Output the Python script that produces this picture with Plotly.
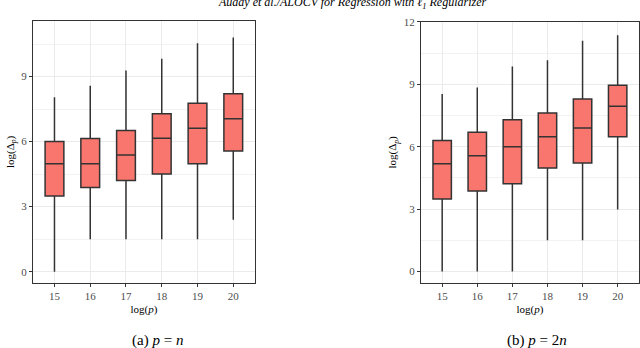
import plotly.graph_objects as go

cats = ["15", "16", "17", "18", "19", "20"]

# panel (a) p = n
a_low = [0.0, 1.49, 1.49, 1.49, 1.49, 2.39]
a_q1 = [3.49, 3.88, 4.2, 4.51, 4.98, 5.57]
a_med = [4.98, 4.98, 5.38, 6.15, 6.62, 7.06]
a_q3 = [6.0, 6.14, 6.51, 7.29, 7.77, 8.21]
a_high = [8.05, 8.58, 9.28, 9.82, 10.54, 10.8]

# panel (b) p = 2n
b_low = [0.0, 0.0, 0.0, 1.5, 1.5, 2.98]
b_q1 = [3.49, 3.87, 4.22, 4.98, 5.22, 6.48]
b_med = [5.18, 5.57, 6.0, 6.48, 6.9, 7.94]
b_q3 = [6.3, 6.69, 7.3, 7.62, 8.29, 8.96]
b_high = [8.53, 8.85, 9.86, 10.16, 11.09, 11.36]

fill = "#F8766D"
serif = "Liberation Serif"

fig = go.Figure()
fig.add_trace(go.Box(x=cats, q1=a_q1, median=a_med, q3=a_q3,
                     lowerfence=a_low, upperfence=a_high, whiskerwidth=0,
                     fillcolor=fill, line=dict(color="#333333", width=1.5),
                     xaxis="x", yaxis="y", showlegend=False, hoverinfo="skip"))
fig.add_trace(go.Box(x=cats, q1=b_q1, median=b_med, q3=b_q3,
                     lowerfence=b_low, upperfence=b_high, whiskerwidth=0,
                     fillcolor=fill, line=dict(color="#333333", width=1.5),
                     xaxis="x2", yaxis="y2", showlegend=False, hoverinfo="skip"))

xcommon = dict(type="category", range=[-0.6, 5.6], showgrid=True, gridcolor="#EBEBEB",
               gridwidth=1, showline=True, linecolor="#333333", linewidth=1.2, mirror=True,
               ticks="outside", ticklen=3, tickcolor="#333333", automargin=False,
               tickfont=dict(family=serif, size=11, color="#4D4D4D"),
               zeroline=False)
ycommon = dict(showgrid=True, gridcolor="#EBEBEB", gridwidth=1, showline=True,
               linecolor="#333333", linewidth=1.2, mirror=True, automargin=False,
               ticks="outside", ticklen=3, tickcolor="#333333",
               tickfont=dict(family=serif, size=11, color="#4D4D4D"),
               tickmode="array", zeroline=False,
               minor=dict(showgrid=True, gridcolor="#F2F2F2", gridwidth=0.6,
                          tickmode="array", tickvals=[1.5, 4.5, 7.5, 10.5]))

fig.update_layout(
    width=640, height=348,
    margin=dict(l=0, r=0, t=0, b=0),
    paper_bgcolor="white", plot_bgcolor="white",
    boxgap=0.25,
    xaxis=dict(domain=[0.0516, 0.398], anchor="y",
               title=dict(text="log(<i>p</i>)", standoff=4,
                          font=dict(family=serif, size=11, color="black")), **xcommon),
    yaxis=dict(domain=[0.187, 0.940], anchor="x", range=[-0.52, 11.57],
               tickvals=[0, 3, 6, 9],
               title=dict(text="log(Δ<sub><i>p</i></sub>)", standoff=4,
                          font=dict(family=serif, size=11, color="black")), **ycommon),
    xaxis2=dict(domain=[0.658, 0.998], anchor="y2",
                title=dict(text="log(<i>p</i>)", standoff=4,
                           font=dict(family=serif, size=11, color="black")), **xcommon),
    yaxis2=dict(domain=[0.187, 0.937], anchor="x2", range=[-0.55, 12.0],
                tickvals=[0, 3, 6, 9, 12],
                title=dict(text="log(Δ<sub><i>p</i></sub>)", standoff=4,
                           font=dict(family=serif, size=11, color="black")), **ycommon),
)

fig.add_annotation(text="<i>Auddy et al./ALOCV for Regression with ℓ<sub>1</sub> Regularizer</i>",
                   x=352 / 640, y=1 - 3 / 348, xref="paper", yref="paper",
                   xanchor="center", yanchor="middle", showarrow=False,
                   font=dict(family=serif, size=12, color="black"))
fig.add_annotation(text="(a) <i>p</i> = <i>n</i>", x=157 / 640, y=1 - 340 / 348,
                   xref="paper", yref="paper", xanchor="center", yanchor="middle",
                   showarrow=False, font=dict(family=serif, size=15, color="black"))
fig.add_annotation(text="(b) <i>p</i> = 2<i>n</i>", x=537 / 640, y=1 - 340 / 348,
                   xref="paper", yref="paper", xanchor="center", yanchor="middle",
                   showarrow=False, font=dict(family=serif, size=15, color="black"))

fig.write_html("out.html", config={"displayModeBar": False},
               post_script="document.body.style.margin='0';")
